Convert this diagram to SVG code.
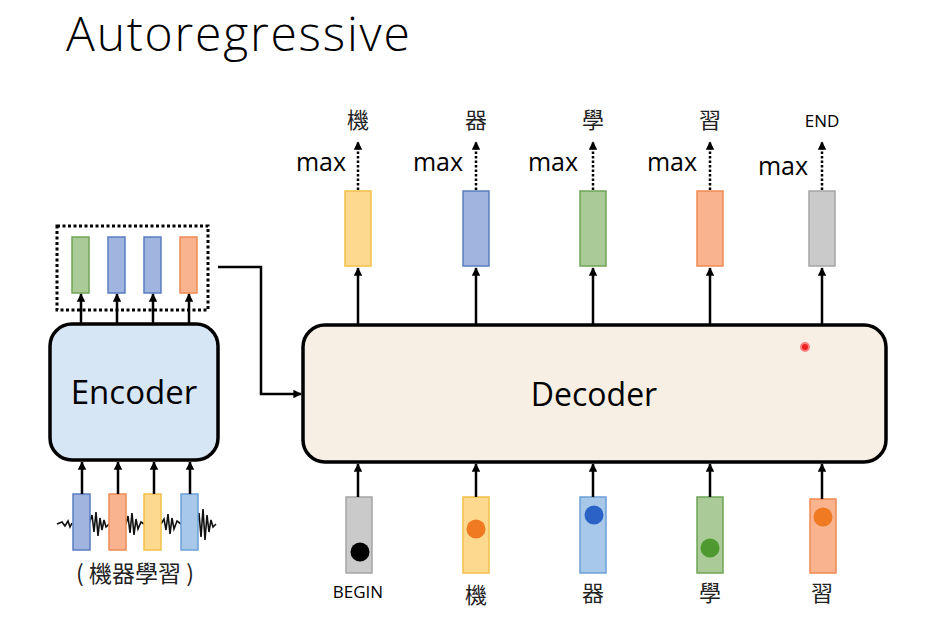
<svg xmlns="http://www.w3.org/2000/svg" width="930" height="629" viewBox="0 0 930 629">
<style>
  .t{font-family:"Open Sans","Liberation Sans","Noto Sans CJK TC",sans-serif;fill:#000}
  .cjk{font-family:"Noto Sans CJK TC","Noto Sans CJK SC",sans-serif;fill:#222}
  .ln{stroke:#000;stroke-width:2.5;fill:none}
  .dot{stroke:#000;stroke-width:3;fill:none;stroke-dasharray:3 2.5}
  .yel{fill:#fdd98f;stroke:#f2bf4a;stroke-width:1.5}
  .blu{fill:#9fb4df;stroke:#5a7dc0;stroke-width:1.5}
  .lbl{fill:#a8c8ea;stroke:#6d9fd8;stroke-width:1.5}
  .grn{fill:#aacb97;stroke:#6fa555;stroke-width:1.5}
  .org{fill:#f9b38e;stroke:#ef8a52;stroke-width:1.5}
  .gry{fill:#cacaca;stroke:#a5a5a5;stroke-width:1.5}
</style>
<defs>
  <marker id="ah" viewBox="0 0 10 10" refX="9" refY="5" markerWidth="3.4" markerHeight="3.4" orient="auto" markerUnits="strokeWidth">
    <path d="M0,0 L10,5 L0,10 z" fill="#000"/>
  </marker>
</defs>
<rect width="930" height="629" fill="#fff"/>
<text class="t" x="66" y="51" font-size="48" font-weight="300" letter-spacing="1.8">Autoregressive</text>

<g id="encoder">
  <rect x="50" y="324" width="168" height="136" rx="22" fill="#d7e6f5" stroke="#000" stroke-width="3.5"/>
  <text class="t" x="134" y="404" font-size="33" text-anchor="middle">Encoder</text>
</g>

<g id="encoder-output">
  <rect x="57" y="226" width="151" height="84" class="dot" />
  <rect x="72" y="237" width="17" height="56" class="grn"/>
  <rect x="108" y="237" width="17" height="56" class="blu"/>
  <rect x="144" y="237" width="17" height="56" class="blu"/>
  <rect x="180" y="237" width="17" height="56" class="org"/>
</g>

<g id="encoder-input">
  <path d="M57,524 L62,522 L65,526 L68,521 L70,527 L72,523 M89,524 L92,515 L94,532 L96,512 L98,536 L100,518 L102,530 L104,520 L106,527 L109,524 M126,524 L128,516 L130,533 L132,513 L134,535 L136,519 L138,529 L141,522 L144,524 M161,524 L164,519 L166,530 L168,514 L170,534 L172,518 L174,529 L177,521 L181,524 M197,524 L199,513 L201,537 L203,509 L205,540 L207,515 L209,532 L211,520 L213,527 L216,524" stroke="#111" stroke-width="1.6" fill="none"/>
  <rect x="73" y="494" width="17" height="56" class="blu"/>
  <rect x="109" y="494" width="17" height="56" class="org"/>
  <rect x="144" y="494" width="17" height="56" class="yel"/>
  <rect x="181" y="494" width="17" height="56" class="lbl"/>
  <text class="cjk" x="135" y="582" font-size="23" text-anchor="middle">( 機器學習 )</text>
</g>

<g id="decoder">
  <rect x="303" y="325" width="583" height="137" rx="22" fill="#f7efe4" stroke="#000" stroke-width="3.5"/>
  <text class="t" x="594" y="406" font-size="32" text-anchor="middle">Decoder</text>
  <circle cx="805" cy="347" r="4" fill="#f02020" stroke="#ff8080" stroke-width="2"/>
</g>

<g id="decoder-output">
  <rect x="345" y="191" width="26" height="75" class="yel"/>
  <rect x="463" y="191" width="26" height="75" class="blu"/>
  <rect x="580" y="191" width="26" height="75" class="grn"/>
  <rect x="697" y="191" width="26" height="75" class="org"/>
  <rect x="809" y="191" width="26" height="75" class="gry"/>
  <text class="t" x="346" y="171" font-size="25" text-anchor="end">max</text>
  <text class="t" x="463" y="171" font-size="25" text-anchor="end">max</text>
  <text class="t" x="578" y="171" font-size="25" text-anchor="end">max</text>
  <text class="t" x="697" y="171" font-size="25" text-anchor="end">max</text>
  <text class="t" x="808" y="175" font-size="25" text-anchor="end">max</text>
  <text class="cjk" x="358" y="128" font-size="22" text-anchor="middle">機</text>
  <text class="cjk" x="476" y="128" font-size="22" text-anchor="middle">器</text>
  <text class="cjk" x="593" y="128" font-size="22" text-anchor="middle">學</text>
  <text class="cjk" x="710" y="128" font-size="22" text-anchor="middle">習</text>
  <text class="t" x="822" y="127" font-size="17" text-anchor="middle">END</text>
</g>

<g id="decoder-input">
  <rect x="346" y="497" width="26" height="76" class="gry"/>
  <rect x="463" y="497" width="26" height="76" class="yel"/>
  <rect x="580" y="497" width="26" height="76" class="lbl"/>
  <rect x="697" y="497" width="26" height="76" class="grn"/>
  <rect x="810" y="499" width="26" height="74" class="org"/>
  <circle cx="360" cy="552" r="9.5" fill="#000"/>
  <circle cx="476" cy="529" r="9.5" fill="#f07a22"/>
  <circle cx="594" cy="515" r="9.5" fill="#2b62c6"/>
  <circle cx="710" cy="548" r="9.5" fill="#4f9a30"/>
  <circle cx="823" cy="517" r="9.5" fill="#f07a22"/>
  <text class="t" x="358" y="598" font-size="17" text-anchor="middle">BEGIN</text>
  <text class="cjk" x="476" y="603" font-size="22" text-anchor="middle">機</text>
  <text class="cjk" x="593" y="601" font-size="22" text-anchor="middle">器</text>
  <text class="cjk" x="710" y="601" font-size="22" text-anchor="middle">學</text>
  <text class="cjk" x="822" y="601" font-size="22" text-anchor="middle">習</text>
</g>

<g id="connectors">
  <line class="ln" x1="82" y1="494" x2="82" y2="462" marker-end="url(#ah)"/>
  <line class="ln" x1="118" y1="494" x2="118" y2="462" marker-end="url(#ah)"/>
  <line class="ln" x1="154" y1="494" x2="154" y2="462" marker-end="url(#ah)"/>
  <line class="ln" x1="190" y1="494" x2="190" y2="462" marker-end="url(#ah)"/>
  <line class="ln" x1="81" y1="323" x2="81" y2="294" marker-end="url(#ah)"/>
  <line class="ln" x1="117" y1="323" x2="117" y2="294" marker-end="url(#ah)"/>
  <line class="ln" x1="153" y1="323" x2="153" y2="294" marker-end="url(#ah)"/>
  <line class="ln" x1="189" y1="323" x2="189" y2="294" marker-end="url(#ah)"/>
  <polyline class="ln" points="218,267 261,267 261,394 301,394" marker-end="url(#ah)"/>
  <line class="ln" x1="358" y1="324" x2="358" y2="268" marker-end="url(#ah)"/>
  <line class="ln" x1="476" y1="324" x2="476" y2="268" marker-end="url(#ah)"/>
  <line class="ln" x1="593" y1="324" x2="593" y2="268" marker-end="url(#ah)"/>
  <line class="ln" x1="710" y1="324" x2="710" y2="268" marker-end="url(#ah)"/>
  <line class="ln" x1="822" y1="324" x2="822" y2="268" marker-end="url(#ah)"/>
  <line x1="358" y1="190" x2="358" y2="142" stroke="#000" stroke-width="2.5" stroke-dasharray="2.5 2" marker-end="url(#ah)"/>
  <line x1="476" y1="190" x2="476" y2="142" stroke="#000" stroke-width="2.5" stroke-dasharray="2.5 2" marker-end="url(#ah)"/>
  <line x1="593" y1="190" x2="593" y2="142" stroke="#000" stroke-width="2.5" stroke-dasharray="2.5 2" marker-end="url(#ah)"/>
  <line x1="710" y1="190" x2="710" y2="142" stroke="#000" stroke-width="2.5" stroke-dasharray="2.5 2" marker-end="url(#ah)"/>
  <line x1="822" y1="190" x2="822" y2="142" stroke="#000" stroke-width="2.5" stroke-dasharray="2.5 2" marker-end="url(#ah)"/>
  <line class="ln" x1="358" y1="497" x2="358" y2="464" marker-end="url(#ah)"/>
  <line class="ln" x1="476" y1="497" x2="476" y2="464" marker-end="url(#ah)"/>
  <line class="ln" x1="593" y1="497" x2="593" y2="464" marker-end="url(#ah)"/>
  <line class="ln" x1="710" y1="497" x2="710" y2="464" marker-end="url(#ah)"/>
  <line class="ln" x1="822" y1="499" x2="822" y2="464" marker-end="url(#ah)"/>
</g>
</svg>
